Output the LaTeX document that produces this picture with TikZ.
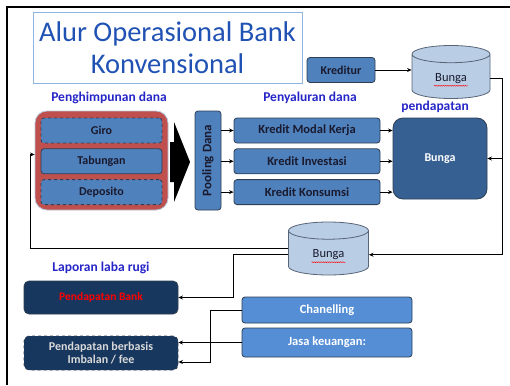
\documentclass[tikz,border=0pt]{standalone}
\usepackage{fontspec}
\setmainfont{Carlito}
\usetikzlibrary{shapes.geometric, arrows.meta, positioning, calc, decorations.pathmorphing}

\definecolor{boxblue}{HTML}{4F81BD}
\definecolor{boxedge}{HTML}{2E3F55}
\definecolor{boxtext}{HTML}{1A1A2E}
\definecolor{groupred}{HTML}{C0504D}
\definecolor{groupedge}{HTML}{B4C4DA}
\definecolor{bungadark}{HTML}{376092}
\definecolor{drumfill}{HTML}{B9CDE5}
\definecolor{navy}{HTML}{17375E}
\definecolor{skyblue}{HTML}{558ED5}
\definecolor{labelblue}{HTML}{2626C8}
\definecolor{titleblue}{HTML}{2052B4}
\definecolor{titleedge}{HTML}{8EB4E3}

\begin{document}
\begin{tikzpicture}[x=1pt, y=-1pt,
    box/.style={rectangle, rounded corners=3pt, draw=boxedge, thick, fill=boxblue, minimum height=25pt, inner sep=1pt, align=center, font=\bfseries\fontsize{12}{14}\selectfont, text=boxtext},
    dashbox/.style={box, dashed},
    drum/.style={cylinder, shape border rotate=90, aspect=0.45, anchor=shape center, draw=boxedge!80, thick, fill=drumfill, font=\fontsize{12.5}{14}\selectfont, text=boxtext},
    darkbox/.style={rectangle, rounded corners=5pt, draw=boxedge, thick, fill=navy, minimum width=154pt, inner sep=1pt, align=center},
    lightbox/.style={box, fill=skyblue, text=white, minimum width=170pt, font=\bfseries\fontsize{12.5}{14}\selectfont},
    heading/.style={font=\bfseries\fontsize{13.5}{15}\selectfont, text=labelblue},
    arrow/.style={-{Stealth[length=1.6mm, width=1.4mm]}, thick},
    squiggle/.style={red, decorate, decoration={snake, amplitude=0.5pt, segment length=2.2pt}},
    node distance=5pt
]
\useasboundingbox (0,0) rectangle (510,385);

% frame
\draw[line width=2pt] (510,7) -- (7,7) -- (7,385);

% title
\node[draw=titleedge, line width=0.8pt, minimum width=269pt, minimum height=71pt, align=center,
      text=titleblue, font=\fontsize{28.5}{32}\selectfont] (title) at (167.5,47.5) {Alur Operasional Bank\\Konvensional};

% headings
\node[heading] (himpun) at (109,98) {Penghimpunan dana};
\node[heading] (salur) at (310,98) {Penyaluran dana};
\node[heading] (dapat) at (435,107) {pendapatan};
\node[heading] (laporan) at (101,268) {Laporan laba rugi};

% dana pihak ketiga
\node[rectangle, rounded corners=12pt, draw=groupedge, thick, fill=groupred, minimum width=133pt, minimum height=99pt] (group) at (101.5,160.5) {};
\node[dashbox, minimum width=121pt] (giro) at (101.5,130.5) {Giro};
\node[box, minimum width=121pt, below=of giro] (tabungan) {Tabungan};
\node[dashbox, minimum width=121pt, below=of tabungan] (deposito) {Deposito};

% big arrow
\fill (170,142) -- (174,142) -- (174,122) -- (190,162) -- (174,202) -- (174,182) -- (170,182) -- cycle;

\node[box, minimum width=26pt, minimum height=99pt, inner sep=0pt, font=\bfseries\fontsize{13}{15}\selectfont] (pooling) at (208,160.5) {\rotatebox{90}{Pooling Dana}};

% kredit
\node[box, minimum width=146pt, font=\bfseries\fontsize{12.5}{14}\selectfont] (modal) at (307,130.5) {Kredit Modal Kerja};
\node[box, minimum width=146pt, font=\bfseries\fontsize{12.5}{14}\selectfont, below=of modal] (investasi) {Kredit Investasi};
\node[box, minimum width=146pt, font=\bfseries\fontsize{12.5}{14}\selectfont, below=of investasi] (konsumsi) {Kredit Konsumsi};

\node[box, rounded corners=10pt, fill=bungadark, text=white, minimum width=94pt, minimum height=81pt] (bungabig) at (440,158.5) {Bunga};

\node[box, minimum width=68pt] (kreditur) at (341,70) {Kreditur};
\node[drum, minimum width=78pt, minimum height=53pt] (bungatop) at (451,72) {Bunga};
\node[drum, minimum width=80pt, minimum height=53pt] (bungalow) at (328.5,248.5) {Bunga};
\draw[squiggle] ($(bungatop.center)+(-17,7.5)$) -- ($(bungatop.center)+(17,7.5)$);
\draw[squiggle] ($(bungalow.center)+(-17,7.5)$) -- ($(bungalow.center)+(17,7.5)$);

% laporan laba rugi
\node[darkbox, minimum height=33pt, text=red, font=\bfseries\fontsize{11.5}{13}\selectfont] (pbank) at (101,297.5) {Pendapatan Bank};
\node[darkbox, dashed, minimum height=34pt, text=white!85!black, font=\bfseries\fontsize{12}{13.5}\selectfont] (pfee) at (101,353) {Pendapatan berbasis\\Imbalan / fee};
\node[lightbox, minimum height=26pt] (chan) at (327,310) {Chanelling};
\node[lightbox, minimum height=29pt] (jasa) at (327,342.5) {Jasa keuangan:};

\coordinate (rail) at (502,158.5);
\coordinate (back) at ($(group.west)+(-4,-6)$);
\coordinate (drop) at ($(pbank.east)+(55,0)$);
\coordinate (fork) at ($(pfee.east)+(32,9)$);

% Arrows
\draw[arrow] (kreditur) -- (bungatop.west |- kreditur);
\draw[arrow] (bungatop.east) -| (rail) |- (bungalow.east);
\draw[arrow] (rail) -- (bungabig.east);
\foreach \k in {modal, investasi, konsumsi} {
  \draw[arrow] (pooling.east |- \k) -- (\k);
  \draw[arrow] (\k) -- (\k -| bungabig.west);
}
\draw[arrow] ($(bungalow.west)+(0,-6)$) -| (back) -- (back -| group.west);
\draw[arrow] (bungalow.west) -| (drop) -- (pbank.east);
\draw[arrow] (chan.west) -| (fork) -- (fork -| pfee.east);
\draw[arrow] (jasa.west) -- (jasa.west -| pfee.east);

\end{tikzpicture}
\end{document}
